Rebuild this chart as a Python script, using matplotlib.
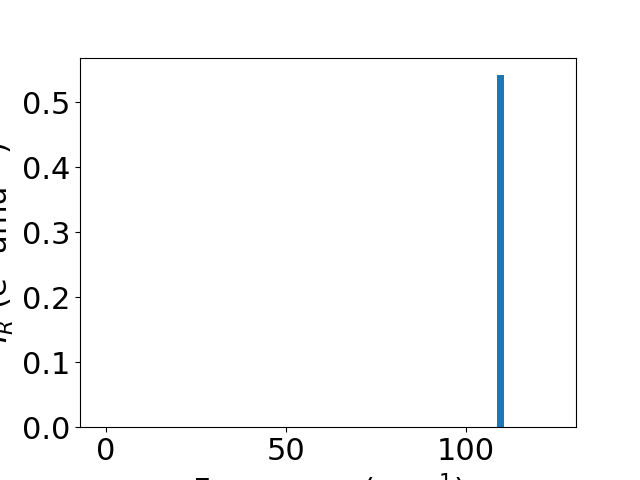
import matplotlib
matplotlib.use('Agg')
import matplotlib.pyplot as plt

# Spectrum data
frequencies = [109.6]
intensities = [0.5415]

plt.rcParams['font.size'] = 22

fig, ax = plt.subplots(figsize=(6.4, 4.8), dpi=100)
ax.bar(frequencies, intensities, width=2, color='#1f77b4')

ax.set_xlim(-7.2, 130.5)
ax.set_xticks([0, 50, 100])
ax.set_xlabel('Frequency (cm$^{-1}$)')
ax.set_ylabel('$I_R$ (e$^2$ amu$^{-1}$)')

plt.savefig('out.png')
